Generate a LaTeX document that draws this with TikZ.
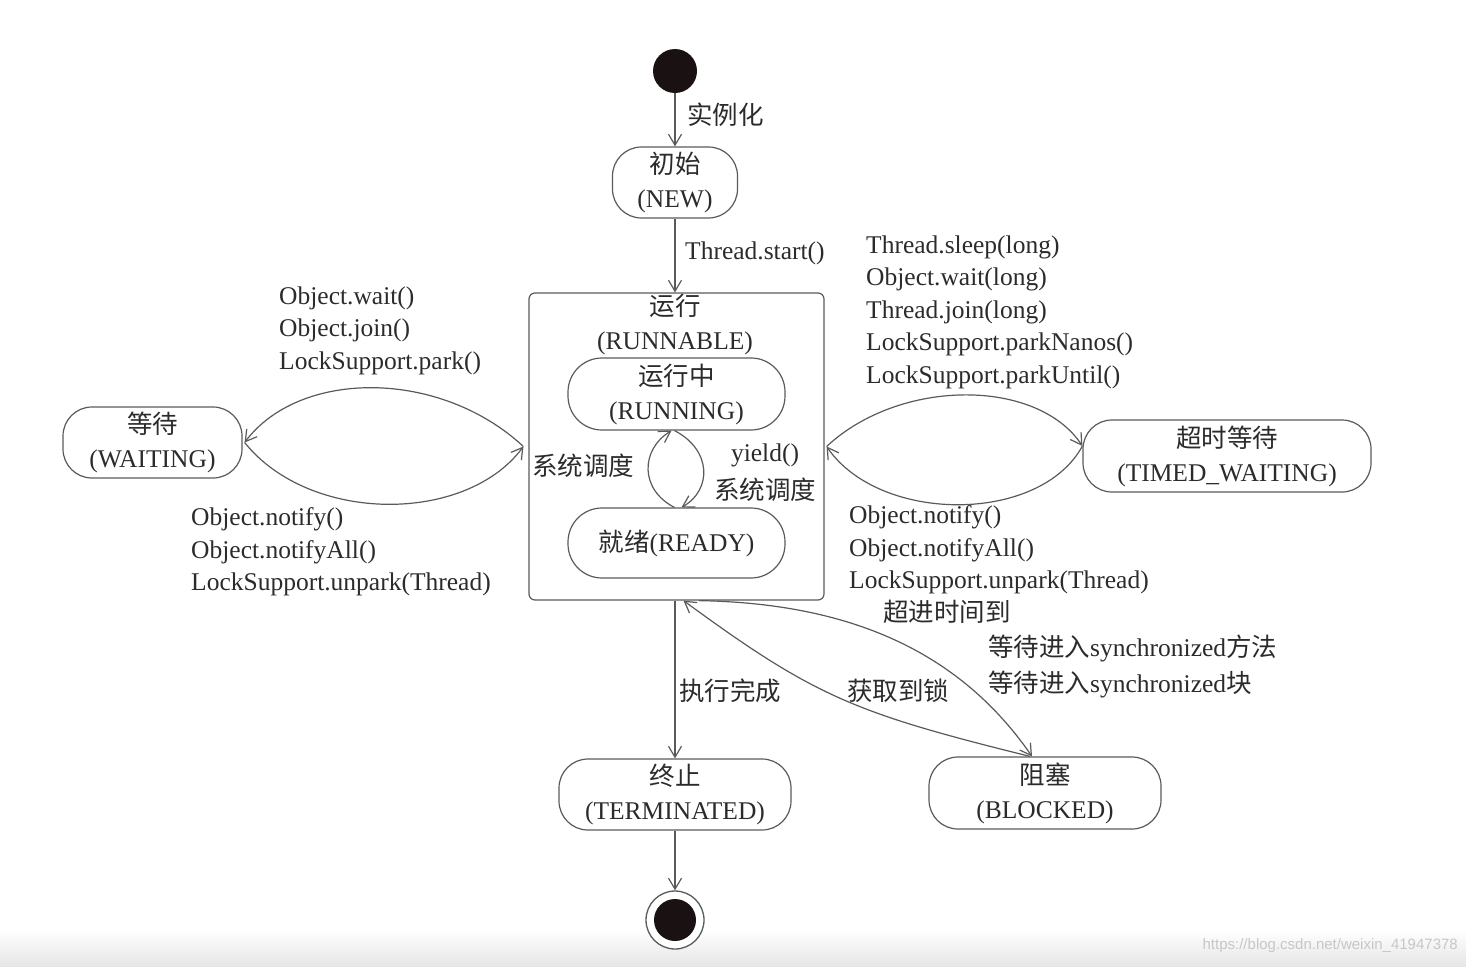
\documentclass[tikz,border=0pt]{standalone}
\usepackage{fontspec}
\setmainfont{Liberation Serif}
\newfontfamily\cjk{Noto Sans CJK SC}
\newfontfamily\wmfont{Liberation Sans}
\usetikzlibrary{arrows.meta}
\definecolor{linec}{HTML}{5A5A5A}
\definecolor{txt}{HTML}{2B2B2B}
\definecolor{startc}{HTML}{1A1212}
\newcommand\zhs[1]{{\cjk #1}}
\begin{document}
\begin{tikzpicture}[x=1pt,y=-1pt,
  every node/.style={text=txt},
  lbl/.style={font=\fontsize{25.5}{32.5}\selectfont, inner sep=0pt, align=left},
  state/.style={draw=linec, line width=1.2pt, rounded corners=29pt, align=center, inner sep=0pt, font=\fontsize{25.5}{34}\selectfont},
  arr/.style={draw=linec, line width=1.2pt, -{Straight Barb[length=11pt,width=13pt,line width=1.2pt]}},
  wm/.style={font=\wmfont\fontsize{15}{15}\selectfont, text=black!22, inner sep=0pt}
]
\useasboundingbox (0,0) rectangle (1466,966);
\shade[top color=white,bottom color=black!10] (0,930) rectangle (1466,966);

% nodes
\node[circle, fill=startc, minimum size=44pt, inner sep=0pt] (start) at (675,71) {};
\node[state, minimum width=125pt, minimum height=71pt] (new) at (675,182.5) {\zhs{初始}\\(NEW)};
\node[draw=linec, line width=1.2pt, rounded corners=6pt, minimum width=295pt, minimum height=307pt, inner sep=0pt] (runnable) at (676.5,446.5) {};
\node[state, draw=none] (runtitle) at (675,324) {\zhs{运行}\\(RUNNABLE)};
\node[state, rounded corners=34pt, minimum width=217pt, minimum height=72pt] (running) at (676.5,394) {\zhs{运行中}\\(RUNNING)};
\node[state, rounded corners=34pt, minimum width=217pt, minimum height=70pt] (ready) at (676.5,543) {\zhs{就绪}(READY)};
\node[state, minimum width=179pt, minimum height=71pt] (waiting) at (152.5,442.5) {\zhs{等待}\\(WAITING)};
\node[state, minimum width=288pt, minimum height=72pt] (timed) at (1227,456) {\zhs{超时等待}\\(TIMED\_WAITING)};
\node[state, minimum width=232pt, minimum height=71pt] (terminated) at (675,794.5) {\zhs{终止}\\(TERMINATED)};
\node[state, minimum width=232pt, minimum height=72pt] (blocked) at (1045,793) {\zhs{阻塞}\\(BLOCKED)};
\node[circle, draw=linec, line width=1.3pt, fill=white, minimum size=58pt, inner sep=0pt] (end) at (675,920) {};
\node[circle, fill=startc, minimum size=42pt, inner sep=0pt] (endin) at (end) {};

% straight connectors
\draw[arr] (start) -- (new);
\draw[arr] (new) -- (new.south |- runnable.north);
\draw[arr] (runnable.south -| terminated.north) -- (terminated);
\draw[arr] (terminated) -- (end);

% waiting lens
\draw[arr] ([xshift=-5pt]runnable.west) .. controls (440,369) and (300,369) .. ([xshift=2pt]waiting.east);
\draw[arr] ([xshift=2pt]waiting.east) .. controls (310,524) and (466,524) .. ([xshift=-5pt]runnable.west);

% timed waiting lens
\draw[arr] ([xshift=2pt]runnable.east) .. controls (900,378) and (1037,378) .. ([yshift=10pt]timed.west);
\draw[arr] ([yshift=10pt]timed.west) .. controls (1040,524) and (880,524) .. ([xshift=2pt]runnable.east);

% inner loop
\draw[arr] ([xshift=-2pt]ready.north) .. controls (640,490) and (640,450) .. ([xshift=-5pt]running.south);
\draw[arr] ([xshift=-2pt]running.south) .. controls (712,450) and (712,490) .. ([xshift=5pt]ready.north);

% blocked
\draw[arr] ([xshift=22pt]runnable.south) .. controls (840,603) and (955,645) .. ([xshift=-13pt]blocked.north);
\draw[arr] ([xshift=-15pt]blocked.north) .. controls (855,713) and (815,697) .. ([xshift=7pt]runnable.south);

% labels
\node[lbl, anchor=west] (l1) at (687,115) {\zhs{实例化}};
\node[lbl, anchor=west] (l2) at (685,253) {Thread.start()};
\node[lbl, anchor=west] (l3) at (279,330.5) {Object.wait()\\Object.join()\\LockSupport.park()};
\node[lbl, anchor=west] (l4) at (191,552) {Object.notify()\\Object.notifyAll()\\LockSupport.unpark(Thread)};
\node[lbl, anchor=west] (l5) at (866,312) {Thread.sleep(long)\\Object.wait(long)\\Thread.join(long)\\LockSupport.parkNanos()\\LockSupport.parkUntil()};
\node[lbl, anchor=west] (l6) at (849,550) {Object.notify()\\Object.notifyAll()\\LockSupport.unpark(Thread)};
\node[lbl, anchor=west] (l7) at (883,612) {\zhs{超进时间到}};
\node[lbl, anchor=west, font=\fontsize{25.5}{36}\selectfont] (l8) at (988,666) {\zhs{等待进入}synchronized\zhs{方法}\\\zhs{等待进入}synchronized\zhs{块}};
\node[lbl] (l9) at (898,691) {\zhs{获取到锁}};
\node[lbl, anchor=west] (l10) at (679,691) {\zhs{执行完成}};
\node[lbl] (l11) at (583,466) {\zhs{系统调度}};
\node[lbl] (l12) at (765,455) {yield()};
\node[lbl] (l13) at (765,490) {\zhs{系统调度}};
\node[wm, anchor=east] (wm) at (1458,946) {https://blog.csdn.net/weixin\_41947378};
\end{tikzpicture}
\end{document}
